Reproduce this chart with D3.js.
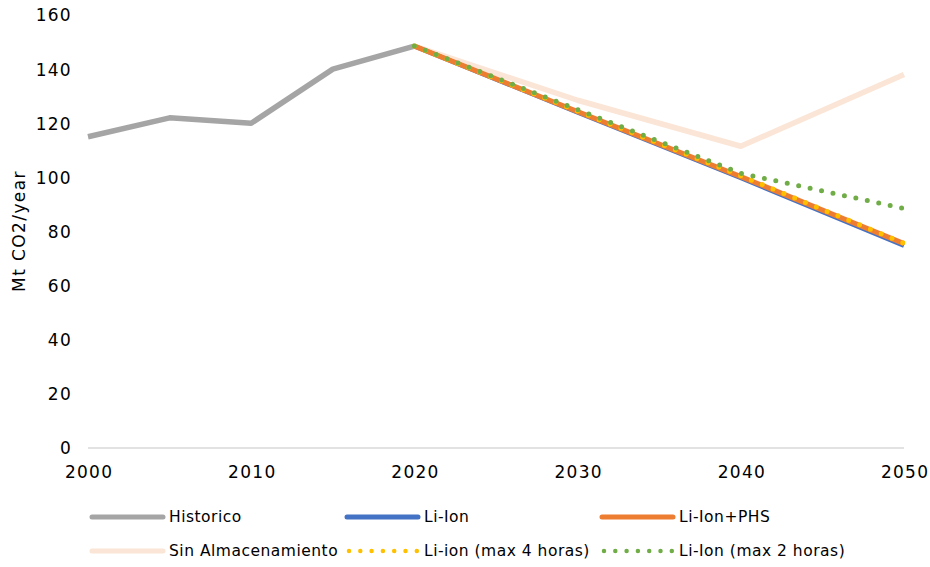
<!DOCTYPE html>
<html>
<head>
<meta charset="utf-8">
<script src="https://cdn.jsdelivr.net/npm/d3@7"></script>
<style>
  html, body { margin: 0; padding: 0; background: #fff; }
  svg text { font-family: "DejaVu Sans", sans-serif; fill: #000; }
</style>
</head>
<body>
<svg id="chart" width="930" height="567"></svg>
<script>
// Emisiones de CO2 del sector eléctrico: histórico y escenarios de almacenamiento
const histYears = [2000, 2005, 2010, 2015, 2020];
const historico = [115, 122, 120, 140, 148.5];

const scenYears = [2020, 2030, 2040, 2050];
const sinAlmacenamiento = [148.5, 128.5, 111.5, 138];
const liIon = [148.5, 124, 99.8, 74.8];
const liIonPHS = [148.5, 124.3, 100.3, 75.5];
const liIonMax4 = [148.5, 124.5, 100.6, 75.7];
const liIonMax2 = [148.5, 125, 101.5, 88.5];

const xTicks = [2000, 2010, 2020, 2030, 2040, 2050];
const yTicks = [0, 20, 40, 60, 80, 100, 120, 140, 160];

const svg = d3.select("#chart");
const x = d3.scaleLinear().domain([2000, 2050]).range([88, 904]);
const y = d3.scaleLinear().domain([0, 160]).range([448, 15]);

// baseline
svg.append("line")
  .attr("x1", x(2000)).attr("x2", x(2050))
  .attr("y1", y(0)).attr("y2", y(0))
  .attr("stroke", "#d9d9d9").attr("stroke-width", 1.3);

// axes (labels only)
const yAxis = svg.append("g").attr("transform", `translate(${x(2000)},0)`)
  .call(d3.axisLeft(y).tickValues(yTicks).tickSize(0).tickPadding(16));
yAxis.select(".domain").remove();
yAxis.selectAll("text").style("font-size", "17px").style("letter-spacing", "1.3px").attr("dy", "0.35em");

const xAxis = svg.append("g").attr("transform", `translate(0,${y(0)})`)
  .call(d3.axisBottom(x).tickValues(xTicks).tickFormat(d3.format("d")).tickSize(0).tickPadding(18));
xAxis.select(".domain").remove();
xAxis.selectAll("text").style("font-size", "17px").style("letter-spacing", "1.3px").attr("dx", "0.6px");

svg.append("text")
  .attr("transform", `translate(25,231) rotate(-90)`)
  .attr("text-anchor", "middle")
  .style("font-size", "17px")
  .style("letter-spacing", "1.4px")
  .text("Mt CO2/year");

const line = d3.line().x(d => x(d[0])).y(d => y(d[1]));
const zip = (xs, vs) => xs.map((v, i) => [v, vs[i]]);

const series = [
  { name: "Historico", years: histYears, values: historico, color: "#a5a5a5", width: 5.5 },
  { name: "Sin Almacenamiento", years: scenYears, values: sinAlmacenamiento, color: "#fbe5d6", width: 5.5 },
  { name: "Li-Ion", years: scenYears, values: liIon, color: "#4472c4", width: 4.5 },
  { name: "Li-Ion+PHS", years: scenYears, values: liIonPHS, color: "#ed7d31", width: 5 },
  { name: "Li-ion (max 4 horas)", years: scenYears, values: liIonMax4, color: "#ffc000", width: 5, dotted: true },
  { name: "Li-Ion (max 2 horas)", years: scenYears, values: liIonMax2, color: "#70ad47", width: 5, dotted: true }
];

series.forEach(s => {
  svg.append("path")
    .datum(zip(s.years, s.values))
    .attr("d", line)
    .attr("fill", "none")
    .attr("stroke", s.color)
    .attr("stroke-width", s.width)
    .attr("stroke-linejoin", "round")
    .attr("stroke-linecap", s.dotted ? "round" : "butt")
    .attr("stroke-dasharray", s.dotted ? "0 11.7" : null);
});

// legend
const legendOrder = ["Historico", "Li-Ion", "Li-Ion+PHS", "Sin Almacenamiento", "Li-ion (max 4 horas)", "Li-Ion (max 2 horas)"];
const colX = [92, 347, 602];
const rowY = [517, 551];
legendOrder.forEach((name, i) => {
  const s = series.find(d => d.name === name);
  const gx = colX[i % 3], gy = rowY[Math.floor(i / 3)];
  const g = svg.append("g").attr("transform", `translate(${gx},${gy})`);
  g.append("line")
    .attr("x1", s.dotted ? 2 : 0).attr("x2", s.dotted ? 70 : 71)
    .attr("y1", 0).attr("y2", 0)
    .attr("stroke", s.color)
    .attr("stroke-width", s.dotted ? 4.5 : 5)
    .attr("stroke-linecap", "round")
    .attr("stroke-dasharray", s.dotted ? "0 11.3" : null);
  g.append("text")
    .attr("x", 77).attr("y", 0).attr("dy", "0.35em")
    .style("font-size", "15.5px")
    .style("letter-spacing", "0.5px")
    .text(s.name);
});
</script>
</body>
</html>
